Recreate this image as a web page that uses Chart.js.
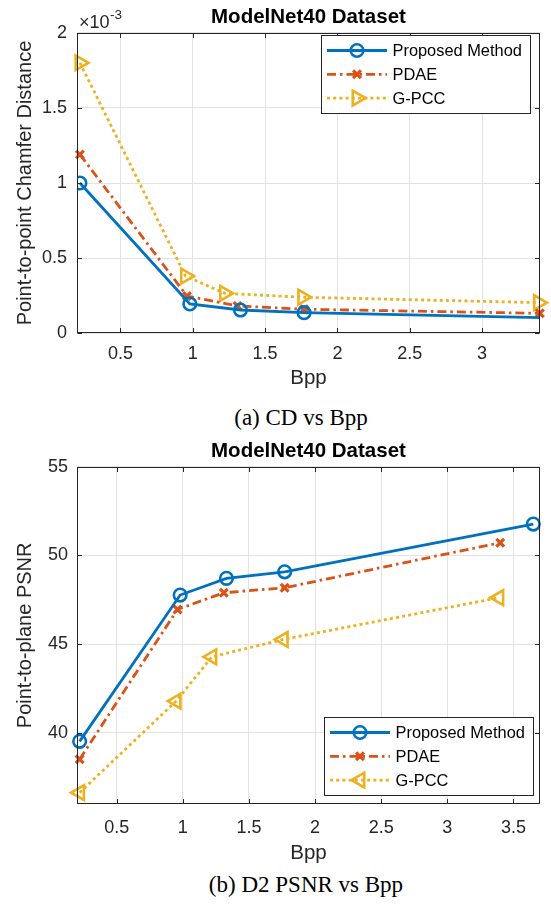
<!DOCTYPE html>
<html lang="en">
<head>
<meta charset="UTF-8">
<title>ModelNet40 Dataset - CD and D2 PSNR vs Bpp</title>
<script src="https://cdn.jsdelivr.net/npm/chart.js"></script>
<style>
    body { margin: 0; background: #fff; }
    #page { position: relative; width: 551px; height: 908px; overflow: hidden; }
    canvas { position: absolute; left: 0; }
    #cdChart { top: 0; }
    #psnrChart { top: 430px; }
    .caption {
        position: absolute;
        font-family: 'Liberation Serif', 'Times New Roman', serif;
        font-size: 23px;
        line-height: 23px;
        white-space: nowrap;
        transform: translateX(-50%);
        color: #000;
    }
</style>
</head>
<body>
<div id="page">
    <canvas id="cdChart" width="551" height="395"></canvas>
    <div class="caption" style="left:301px; top:406px">(a) CD vs Bpp</div>
    <canvas id="psnrChart" width="551" height="440"></canvas>
    <div class="caption" style="left:306px; top:873px">(b) D2 PSNR vs Bpp</div>
</div>

<script>
// --- data ---
const proposedBpp = [0.22, 0.98, 1.33, 1.77, 3.65];
const pdaeBpp = [0.22, 0.96, 1.31, 1.77, 3.40];
const gpccBpp = [0.22, 0.95, 1.22, 1.76, 3.39];

// point-to-point chamfer distance
const proposedCD = [1.0e-3, 0.195e-3, 0.155e-3, 0.137e-3, 0.100e-3];
const pdaeCD = [1.19e-3, 0.248e-3, 0.182e-3, 0.160e-3, 0.133e-3];
const gpccCD = [1.80e-3, 0.381e-3, 0.266e-3, 0.240e-3, 0.204e-3];

// point-to-plane PSNR
const proposedPSNR = [39.53, 47.77, 48.71, 49.08, 51.77];
const pdaePSNR = [38.52, 46.96, 47.90, 48.18, 50.72];
const gpccPSNR = [36.64, 41.80, 44.29, 45.27, 47.62];

const cdBppTicks = [0.5, 1, 1.5, 2, 2.5, 3];
const cdTicks = [0, 0.5e-3, 1e-3, 1.5e-3, 2e-3];
const psnrBppTicks = [0.5, 1, 1.5, 2, 2.5, 3, 3.5];
const psnrTicks = [40, 45, 50, 55];

const FONT = "'Liberation Sans', Arial, Helvetica, sans-serif";
const INK = '#262626';
const GRID = '#e3e3e3';

function series(label, xs, ys, st) {
    return {
        label: label,
        data: xs.map((x, i) => ({ x: x, y: ys[i] })),
        borderColor: st.color,
        backgroundColor: st.color,
        borderWidth: 2.8,
        borderDash: st.dash,
        pointStyle: st.marker,
        pointRadius: st.radius,
        pointRotation: st.rotation || 0,
        pointBorderColor: st.color,
        pointBackgroundColor: 'rgba(0,0,0,0)',
        pointBorderWidth: st.markerWidth,
        tension: 0,
        clip: st.clip
    };
}

// box, inward ticks
const framePlugin = {
    id: 'frame',
    afterDatasetsDraw(chart) {
        const { ctx, chartArea: a, scales } = chart;
        const L = Math.round(a.left) + 0.5, R = Math.round(a.right) - 0.5;
        const T = Math.round(a.top) + 0.5, B = Math.round(a.bottom) - 0.5;
        ctx.save();
        ctx.strokeStyle = INK;
        ctx.lineWidth = 1;
        ctx.strokeRect(L, T, R - L, B - T);
        ctx.beginPath();
        scales.x.ticks.forEach(t => {
            const px = Math.round(scales.x.getPixelForValue(t.value)) + 0.5;
            ctx.moveTo(px, B); ctx.lineTo(px, B - 4.5);
            ctx.moveTo(px, T); ctx.lineTo(px, T + 4.5);
        });
        scales.y.ticks.forEach(t => {
            const py = Math.round(scales.y.getPixelForValue(t.value)) + 0.5;
            ctx.moveTo(L, py); ctx.lineTo(L + 4.5, py);
            ctx.moveTo(R, py); ctx.lineTo(R - 4.5, py);
        });
        ctx.stroke();
        ctx.restore();
    }
};

// bold title above the axes, optional x10^-3 factor
const titlePlugin = {
    id: 'plotTitle',
    afterDraw(chart, args, opts) {
        const { ctx, chartArea: a } = chart;
        ctx.save();
        ctx.fillStyle = '#000';
        ctx.textAlign = 'center';
        ctx.textBaseline = 'alphabetic';
        ctx.font = 'bold 20.5px ' + FONT;
        ctx.fillText(opts.text, (a.left + a.right) / 2, a.top - 10);
        if (opts.exponent) {
            ctx.fillStyle = INK;
            ctx.textAlign = 'left';
            ctx.font = '18px ' + FONT;
            ctx.fillText('\u00d710', a.left + 2, a.top - 4.5);
            const w = ctx.measureText('\u00d710').width;
            ctx.font = '13.5px ' + FONT;
            ctx.fillText(opts.exponent, a.left + 2 + w + 0.5, a.top - 14);
        }
        ctx.restore();
    }
};

// MATLAB-like boxed legend inside the axes
const boxLegend = {
    id: 'boxLegend',
    afterDraw(chart, args, opts) {
        const { ctx, chartArea: a } = chart;
        const sets = chart.data.datasets;
        const rowH = 23.8, lineLen = 60, inset = 6, gap = 5.5;
        ctx.save();
        ctx.font = '16.4px ' + FONT;
        const textW = Math.max(...sets.map(d => ctx.measureText(d.label).width));
        const w = inset + lineLen + gap + textW + 8;
        const h = 78;
        const left = Math.round(a.right - opts.right - w);
        const top = Math.round(opts.top != null ? a.top + opts.top : a.bottom - opts.bottom - h);
        ctx.fillStyle = '#fff';
        ctx.fillRect(left, top, w, h);
        ctx.strokeStyle = INK;
        ctx.lineWidth = 1;
        ctx.strokeRect(left + 0.5, top + 0.5, Math.round(w), h);
        sets.forEach((ds, i) => {
            const y = top + 15.5 + i * rowH;
            ctx.strokeStyle = ds.borderColor;
            ctx.lineWidth = ds.borderWidth;
            ctx.setLineDash(ds.borderDash || []);
            ctx.beginPath();
            ctx.moveTo(left + inset, y);
            ctx.lineTo(left + inset + lineLen, y);
            ctx.stroke();
            ctx.setLineDash([]);
            ctx.lineWidth = ds.pointBorderWidth;
            ctx.fillStyle = 'rgba(0,0,0,0)';
            Chart.helpers.drawPoint(ctx, {
                pointStyle: ds.pointStyle,
                radius: ds.pointRadius,
                rotation: ds.pointRotation,
                borderWidth: ds.pointBorderWidth
            }, left + inset + lineLen / 2, y);
            ctx.fillStyle = '#000';
            ctx.textAlign = 'left';
            ctx.textBaseline = 'middle';
            ctx.fillText(ds.label, left + inset + lineLen + gap, y + 1);
        });
        ctx.restore();
    }
};

function makeOptions(cfg) {
    return {
        responsive: false,
        animation: false,
        layout: { padding: { left: 0, right: cfg.padRight, top: cfg.padTop, bottom: 0 } },
        plugins: {
            legend: { display: false },
            tooltip: { enabled: false },
            plotTitle: { text: 'ModelNet40 Dataset', exponent: cfg.exponent },
            boxLegend: cfg.legend
        },
        scales: {
            x: {
                type: 'linear',
                min: cfg.xMin,
                max: cfg.xMax,
                afterBuildTicks: s => { s.ticks = cfg.xTicks.map(v => ({ value: v })); },
                afterFit: s => { s.height = cfg.xHeight; },
                grid: { color: GRID, drawTicks: false },
                border: { display: false },
                ticks: {
                    padding: cfg.xTickPad,
                    color: INK,
                    maxRotation: 0,
                    autoSkip: false,
                    font: { family: FONT, size: 18 },
                    callback: v => String(v)
                },
                title: {
                    display: true, text: 'Bpp', color: INK,
                    font: { family: FONT, size: 20.5 },
                    padding: { top: 0, bottom: 4.4 }
                }
            },
            y: {
                type: 'linear',
                min: cfg.yMin,
                max: cfg.yMax,
                afterBuildTicks: s => { s.ticks = cfg.yTicks.map(v => ({ value: v })); },
                afterFit: s => { s.width = 77; },
                grid: { color: GRID, drawTicks: false },
                border: { display: false },
                ticks: {
                    padding: cfg.yTickPad,
                    color: INK,
                    font: { family: FONT, size: 18 },
                    callback: cfg.yLabel
                },
                title: {
                    display: true, text: cfg.yTitle, color: INK,
                    font: { family: FONT, size: 20 },
                    padding: { top: 13.5, bottom: 0 }
                }
            }
        }
    };
}

const blue = '#0072BD', orange = '#D95319', yellow = '#EDB120';

new Chart(document.getElementById('cdChart'), {
    type: 'line',
    data: {
        datasets: [
            series('Proposed Method', proposedBpp, proposedCD, { color: blue, dash: [], marker: 'circle', radius: 6.3, markerWidth: 2.6 }),
            series('PDAE', pdaeBpp, pdaeCD, { color: orange, dash: [9, 4, 2.5, 4], marker: 'crossRot', radius: 5.5, markerWidth: 3.2, clip: 12 }),
            series('G-PCC', gpccBpp, gpccCD, { color: yellow, dash: [3, 3.2], marker: 'triangle', radius: 8.5, rotation: 90, markerWidth: 2.6, clip: 12 })
        ]
    },
    options: makeOptions({
        padTop: 32.7, padRight: 4.3, xHeight: 61.7, xTickPad: 10.2, yTickPad: 10,
        xMin: 0.2, xMax: 3.4, xTicks: cdBppTicks,
        yMin: 0, yMax: 2e-3, yTicks: cdTicks,
        yLabel: v => String(Math.round(v * 1e4) / 10),
        yTitle: 'Point-to-point Chamfer Distance',
        exponent: '-3',
        legend: { right: 10, top: 2.3 }
    }),
    plugins: [framePlugin, titlePlugin, boxLegend]
});

new Chart(document.getElementById('psnrChart'), {
    type: 'line',
    data: {
        datasets: [
            series('Proposed Method', proposedBpp, proposedPSNR, { color: blue, dash: [], marker: 'circle', radius: 6.3, markerWidth: 2.6, clip: 12 }),
            series('PDAE', pdaeBpp, pdaePSNR, { color: orange, dash: [9, 4, 2.5, 4], marker: 'crossRot', radius: 5.5, markerWidth: 3.2, clip: 12 }),
            series('G-PCC', gpccBpp, gpccPSNR, { color: yellow, dash: [3, 3.2], marker: 'triangle', radius: 8.5, rotation: -90, markerWidth: 2.6, clip: 12 })
        ]
    },
    options: makeOptions({
        padTop: 36.7, padRight: 5, xHeight: 66, xTickPad: 13.2, yTickPad: 9,
        xMin: 0.2, xMax: 3.7, xTicks: psnrBppTicks,
        yMin: 36, yMax: 55, yTicks: psnrTicks,
        yLabel: v => String(v),
        yTitle: 'Point-to-plane PSNR',
        exponent: null,
        legend: { right: 7.5, bottom: 9 }
    }),
    plugins: [framePlugin, titlePlugin, boxLegend]
});
</script>
</body>
</html>
